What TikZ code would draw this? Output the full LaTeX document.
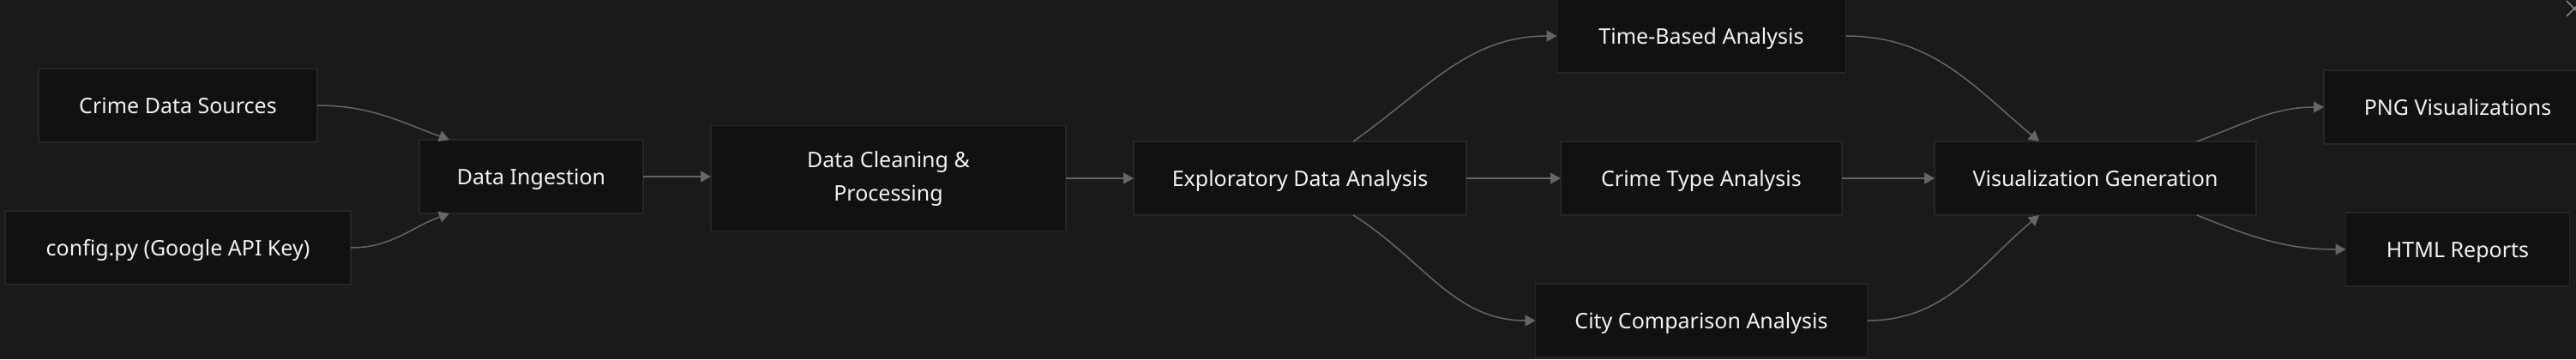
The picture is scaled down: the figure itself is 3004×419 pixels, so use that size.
\documentclass[tikz,border=0pt]{standalone}
\usepackage{fontspec}
\setsansfont{Noto Sans}
\usetikzlibrary{positioning, calc, arrows.meta}
\definecolor{canvas}{HTML}{1A1A1A}
\definecolor{boxfill}{HTML}{111111}
\definecolor{boxline}{HTML}{262626}
\definecolor{edge}{HTML}{666666}
\definecolor{label}{HTML}{F2F2F2}
\definecolor{closemark}{HTML}{9A9A9A}

\begin{document}
\begin{tikzpicture}[
    x=0.5pt, y=-0.5pt,
    >={Triangle[length=6pt, width=6.5pt]},
    font=\sffamily\fontsize{12.5pt}{19.5pt}\selectfont,
    node distance=40pt and 39.5pt,
    box/.style={
        draw=boxline,
        fill=boxfill,
        text=label,
        line width=0.75pt,
        align=center,
        minimum height=43pt,
        minimum width=#1,
        text height=9pt,
        text depth=0pt,
        inner sep=0pt,
        outer sep=0pt
    },
    flow/.style={->, draw=edge, line width=0.75pt}
]

\path[use as bounding box, fill=canvas] (0,0) rectangle (3004,419);

\node[box=130.5pt] (ING) at (619.5,206) {Data Ingestion};
\node[box=201.5pt, below left=20pt and 40pt of ING.west] (CFG) {config.py (Google API Key)};
\node[box=162.5pt, above=of CFG] (CDS) {Crime Data Sources};
\node[box=207pt, minimum height=61.5pt, text height=, text depth=, yshift=-1pt, right=of ING] (CLN) {Data Cleaning \&\\Processing};
\node[box=194pt, right=of CLN] (EDA) {Exploratory Data Analysis};
\node[box=164pt, right=55pt of EDA] (CTA) {Crime Type Analysis};
\node[box=168.5pt, above=of CTA] (TBA) {Time-Based Analysis};
\node[box=193.5pt, below=of CTA] (CCA) {City Comparison Analysis};
\node[box=187.5pt, right=54pt of CTA] (VIS) {Visualization Generation};
\node[box=156pt, above right=20pt and 39.5pt of VIS.east] (PNG) {PNG Visualizations};
\node[box=130.5pt, below=of PNG] (HTML) {HTML Reports};

\draw[flow] (CDS.east) to[out=0, in=160] ([xshift=-47.75pt]ING.north);
\draw[flow] (CFG.east) to[out=0, in=-160] ([xshift=-47.75pt]ING.south);
\draw[flow] (ING) -- (ING -| CLN.west);
\draw[flow] (CLN.east) -- (CLN.east -| EDA.west);
\draw[flow] ([xshift=31pt]EDA.north) to[out=35, in=180] (TBA.west);
\draw[flow] (EDA) -- (CTA);
\draw[flow] ([xshift=31pt]EDA.south) to[out=-32, in=180] (CCA.west);
\draw[flow] (TBA.east) to[out=0, in=140] ([xshift=-32.75pt]VIS.north);
\draw[flow] (CTA) -- (VIS);
\draw[flow] (CCA.east) to[out=0, in=-140] ([xshift=-32.75pt]VIS.south);
\draw[flow] ([xshift=59.25pt]VIS.north) to[out=20, in=180] (PNG.west);
\draw[flow] ([xshift=59.25pt]VIS.south) to[out=-22, in=180] (HTML.west);

% window close mark, cut by the right edge
\draw[closemark, line width=0.6pt] (2993,1) -- (3011,19) (2993,19) -- (3011,1);

\end{tikzpicture}
\end{document}
